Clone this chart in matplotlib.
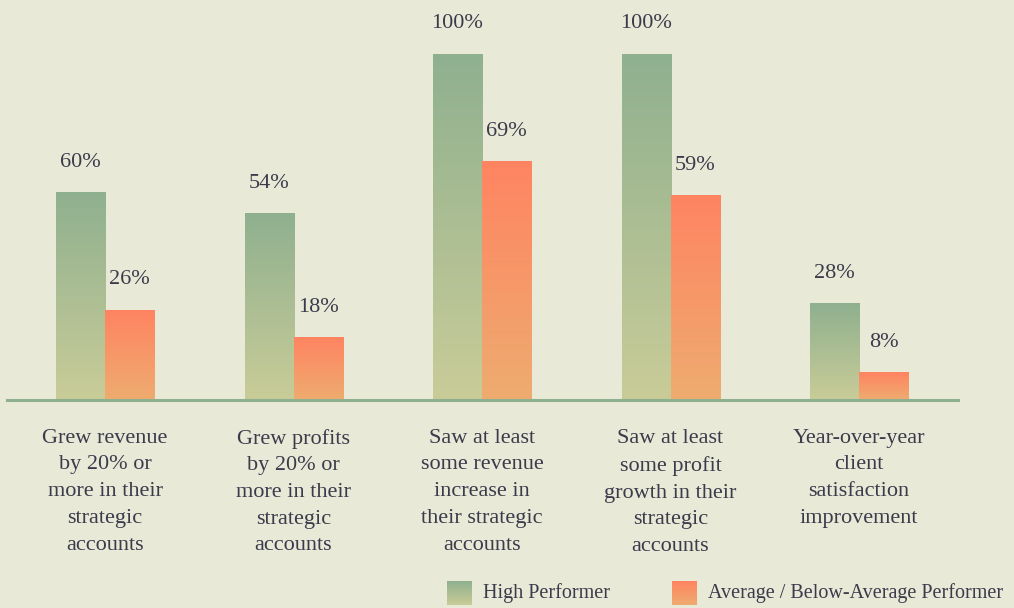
import numpy as np
import matplotlib.pyplot as plt
from matplotlib.colors import LinearSegmentedColormap

categories = ['Grew revenue\nby 20% or\nmore in their\nstrategic\naccounts',
              'Grew profits\nby 20% or\nmore in their\nstrategic\naccounts',
              'Saw at least\nsome revenue\nincrease in\ntheir strategic\naccounts',
              'Saw at least\nsome profit\ngrowth in their\nstrategic\naccounts',
              'Year-over-year\nclient\nsatisfaction\nimprovement']
high = [60, 54, 100, 100, 28]
avg = [26, 18, 69, 59, 8]
series_names = ['High Performer', 'Average / Below-Average Performer']

bg = '#e9e9d7'
txt_col = '#3b3b4c'
green_cm = LinearSegmentedColormap.from_list('g', ['#c9cc98', '#8fb08f'])
orange_cm = LinearSegmentedColormap.from_list('o', ['#eeac70', '#ff8461'])
grad = np.linspace(0, 1, 256).reshape(-1, 1)

plt.rcParams['font.family'] = ['Liberation Serif', 'DejaVu Serif']

fig = plt.figure(figsize=(10.14, 6.08), dpi=100, facecolor=bg)
ax = fig.add_axes([7/1014, (608-400)/608, (958-7)/1014, (400-54)/608])
ax.set_facecolor(bg)

x = np.arange(len(categories))
w = 0.26
for i in x:
    for val, off, cm in [(high[i], -w/2, green_cm), (avg[i], w/2, orange_cm)]:
        ax.imshow(grad, cmap=cm, origin='lower', aspect='auto',
                  extent=(i+off-w/2, i+off+w/2, 0, val), zorder=2)
        ax.text(i+off, val+8.7, '%d%%' % val, ha='center', va='center',
                fontsize=16, color=txt_col, clip_on=False)
    ax.text(i, -8.3, categories[i], ha='center', va='top', fontsize=16,
            color=txt_col, linespacing=1.55)

ax.set_xlim(-0.52, 4.525)
ax.set_ylim(0, 100)
ax.axhline(0, color='#8fb08f', lw=2.2, zorder=3, clip_on=False)
for s in ax.spines.values():
    s.set_visible(False)
ax.set_xticks([])
ax.set_yticks([])

# legend swatches
for xpix, cm, name in [(447, green_cm, series_names[0]), (672, orange_cm, series_names[1])]:
    lax = fig.add_axes([xpix/1014, (608-605)/608, 25/1014, 24/608])
    lax.imshow(grad, cmap=cm, origin='lower', aspect='auto')
    lax.axis('off')
    fig.text((xpix+36)/1014, (608-593)/608, name, ha='left', va='center',
             fontsize=14.5, color=txt_col)

fig.savefig('out.png', dpi=100, facecolor=bg)
